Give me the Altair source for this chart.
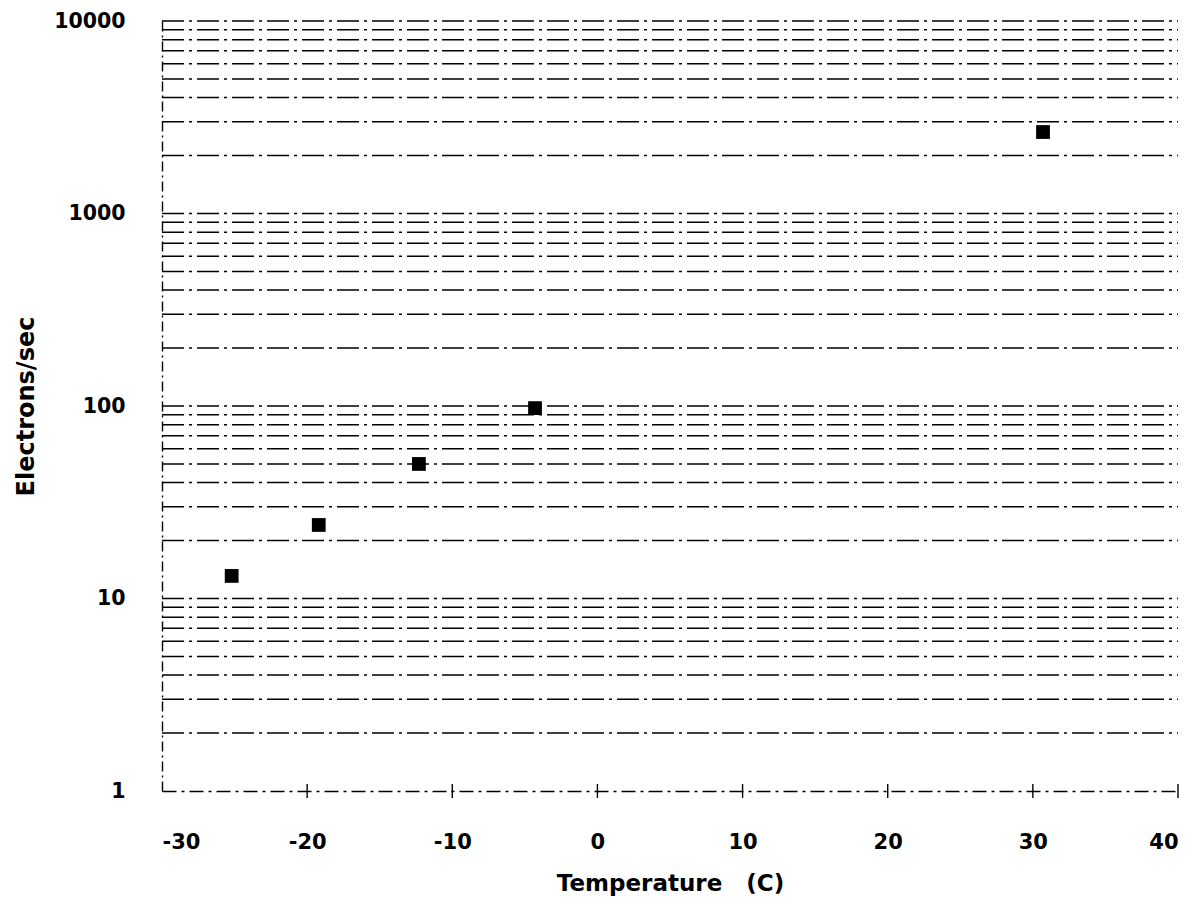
import altair as alt
import pandas as pd

# Data
temperature = [-25.2, -19.2, -12.3, -4.3, 30.7]
electrons = [13.1, 24.1, 50.0, 97.5, 2650.0]

# Horizontal grid lines (every minor log step)
grid_values = [2, 3, 4, 5, 6, 7, 8, 9,
               10, 20, 30, 40, 50, 60, 70, 80, 90,
               100, 200, 300, 400, 500, 600, 700, 800, 900,
               1000, 2000, 3000, 4000, 5000, 6000, 7000, 8000, 9000,
               10000]

y_ticks = [1, 10, 100, 1000, 10000]
x_ticks = [-30, -20, -10, 0, 10, 20, 30, 40]
x_tick_marks = [-20, -10, 0, 10, 20, 30, 40]

W, H = 1016, 770
FONT = "DejaVu Sans"

pts = pd.DataFrame({"t": temperature, "e": electrons})
grid = pd.DataFrame({"g": grid_values})
ticks = pd.DataFrame({"tx": x_tick_marks})

xscale = alt.Scale(domain=[-30, 40], nice=False, zero=False)
yscale = alt.Scale(type="log", domain=[1, 10000], nice=False)

y_axis = alt.Axis(
    title="Electrons/sec", values=y_ticks, grid=False, format="d",
    domainColor="black", domainWidth=1.4, domainDash=[10, 4, 2, 4],
    ticks=False, labelPadding=37,
    labelFont=FONT, labelFontSize=20.5, labelFontWeight="bold", labelColor="black",
    titleFont=FONT, titleFontSize=24, titleFontWeight="bold", titleColor="black",
    titlePadding=15,
)

x_axis = alt.Axis(
    title="Temperature\u00a0\u00a0\u00a0(C)", values=x_ticks, grid=False,
    labelExpr="datum.value < 0 ? '-' + abs(datum.value) : '' + datum.value",
    domainColor="black", domainWidth=1.4, domainDash=[14, 5, 3, 5],
    ticks=False,
    labelFont=FONT, labelFontSize=21, labelFontWeight="bold", labelColor="black",
    labelPadding=40,
    titleFont=FONT, titleFontSize=23, titleFontWeight="bold", titleColor="black",
    titlePadding=20,
)

grid_layer = alt.Chart(grid).mark_rule(
    color="black", strokeWidth=1.5, strokeDash=[22, 5, 3, 5]
).encode(
    y=alt.Y("g:Q", scale=yscale, axis=y_axis),
    x=alt.value(0),
    x2=alt.value(W),
)

tick_layer = alt.Chart(ticks).mark_rule(color="black", strokeWidth=1.4).encode(
    x=alt.X("tx:Q", scale=xscale, axis=x_axis),
    y=alt.value(H - 7),
    y2=alt.value(H + 7),
)

points = alt.Chart(pts).mark_point(
    shape="square", filled=True, color="black", opacity=1, size=190
).encode(
    x=alt.X("t:Q", scale=xscale, axis=x_axis),
    y=alt.Y("e:Q", scale=yscale, axis=y_axis),
)

chart = alt.layer(grid_layer, tick_layer, points).properties(
    width=W, height=H,
    autosize=alt.AutoSizeParams(type="none"),
    padding={"left": 154, "top": 13, "right": 14, "bottom": 108},
    background="white",
).configure_view(stroke=None)

chart.save("out.html", embed_options={"renderer": "svg", "actions": False})
